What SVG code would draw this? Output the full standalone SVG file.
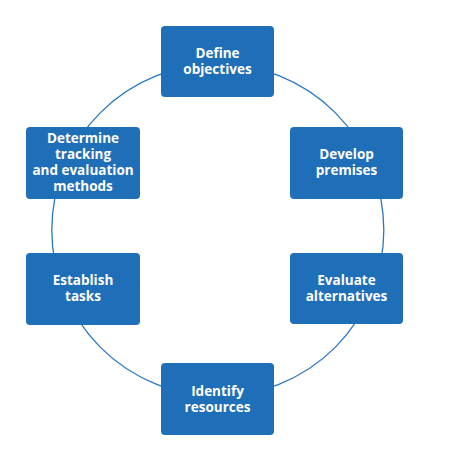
<svg xmlns="http://www.w3.org/2000/svg" width="450" height="450" viewBox="0 0 450 450">
<style>
.box{fill:#1f6fb8;}
.lbl{font-family:"Open Sans","Noto Sans",sans-serif;font-weight:bold;font-size:13.5px;fill:#ffffff;text-anchor:middle;}
.ring{fill:none;stroke:#2a78c2;stroke-width:1.3;}
</style>
<rect width="450" height="450" fill="#ffffff"/>
<g id="connectors">
<circle class="ring" cx="217.8" cy="230" r="166"/>
</g>
<g id="n1"><rect class="box" x="161" y="26" width="113" height="71" rx="4"/>
<text class="lbl" x="217.5" y="58">Define</text><text class="lbl" x="217.5" y="74">objectives</text></g>
<g id="n2"><rect class="box" x="290" y="127" width="113" height="72" rx="4"/>
<text class="lbl" x="346.5" y="159">Develop</text><text class="lbl" x="346.5" y="175">premises</text></g>
<g id="n3"><rect class="box" x="290" y="253" width="113" height="71" rx="4"/>
<text class="lbl" x="346.5" y="285">Evaluate</text><text class="lbl" x="346.5" y="301">alternatives</text></g>
<g id="n4"><rect class="box" x="161" y="363" width="113" height="72" rx="4"/>
<text class="lbl" x="217.5" y="396">Identify</text><text class="lbl" x="217.5" y="412">resources</text></g>
<g id="n5"><rect class="box" x="26" y="253" width="114" height="72" rx="4"/>
<text class="lbl" x="83" y="285">Establish</text><text class="lbl" x="83" y="301">tasks</text></g>
<g id="n6"><rect class="box" x="26" y="127" width="114" height="72" rx="4"/>
<text class="lbl" x="83" y="143">Determine</text><text class="lbl" x="83" y="159">tracking</text><text class="lbl" x="83" y="175">and evaluation</text><text class="lbl" x="83" y="191">methods</text></g>
</svg>
